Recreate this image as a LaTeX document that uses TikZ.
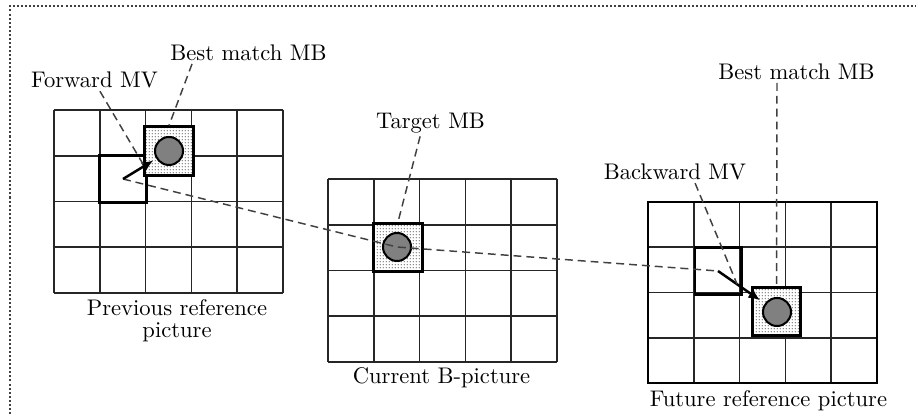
\documentclass[tikz,border=0pt]{standalone}
\usepackage{tikz}
\usetikzlibrary{arrows.meta,patterns,patterns.meta,calc,positioning}
\definecolor{mbgray}{gray}{0.5}
\definecolor{leadgray}{gray}{0.25}
\tikzdeclarepattern{
	name=finedots,
	type=uncolored,
	bounding box={(0,0) and (1.4pt,1.4pt)},
	tile size={(1.4pt,1.4pt)},
	code={\pgfpathcircle{\pgfpoint{0.7pt}{0.7pt}}{0.32pt}\pgfusepath{fill}}
}
\tikzset{%
	>={Latex[width=1.6mm,length=1.8mm]},
	% Specifications for style of lines and nodes:
	gridline/.style = {line width=0.75pt, black!85},
	mblabel/.style = {anchor=base, inner sep=1pt},
	mvbox/.style = {rectangle, draw=black, line width=1.3pt, minimum size=20.4pt,
	inner sep=0pt},
	matchbox/.style = {mvbox, minimum size=21.3pt, preaction={fill=white},
	pattern=finedots, pattern color=black!60},
	mbdot/.style = {circle, draw=black, line width=0.9pt, fill=mbgray,
	minimum size=12.4pt, inner sep=0pt},
	leader/.style = {leadgray, line width=0.65pt, dash pattern=on 3.5pt off 2.2pt},
	mvpath/.style = {leader, leadgray},
	mvarrow/.style = {->, line width=1.1pt}
}
% one picture: 5x4 blocks, top left corner at (#1,#2), block height #3
\newcommand{\refgrid}[3]{%
	\foreach \i in {0,...,5}
		\draw[gridline] (#1+\i*45.8,#2) -- (#1+\i*45.8,#2+4*#3);
	\foreach \j in {0,...,4}
		\draw[gridline] (#1,#2+\j*#3) -- (#1+229,#2+\j*#3);
}

\begin{document}
\begin{tikzpicture}[x=0.4427pt, y=-0.4427pt]
	\useasboundingbox (0,0) rectangle (916,414);
	\draw[dash pattern=on 0.9pt off 0.9pt, black!75, line width=0.8pt]
		(10,414) -- (10,6) -- (916,6);
	
	% the three pictures
	\refgrid{54}{110}{45.75}
	\refgrid{328}{179}{45.75}
	\refgrid{648}{202}{45.25}
	\draw[line width=1.1pt] (648,202) rectangle (877,383);
	
	% Specification of blocks (position, etc.)
	\node (fwdbox)    [mvbox]    at (123,179) {};
	\node (prevmatch) [matchbox] at (169,151) {};
	\node (prevmb)    [mbdot]    at (169,151) {};
	
	\node (curmatch)  [matchbox] at (398,247.5) {};
	\node (curmb)     [mbdot]    at (397,247) {};
	
	\node (bwdbox)    [mvbox]    at (718,271) {};
	\node (futmatch)  [matchbox] at (776.5,311.5) {};
	\node (futmb)     [mbdot]    at (777,312) {};
	
	\coordinate (fwdtip) at (143,164);
	\coordinate (bwdtip) at (737,284);
	
	% labels
	\node (fwdlbl)  [mblabel] at (94.5,88)  {Forward MV};
	\node (prevbml) [mblabel] at (248.5,61) {Best match MB};
	\node (tgtlbl)  [mblabel] at (430.5,129) {Target MB};
	\node (bwdlbl)  [mblabel] at (675,180)  {Backward MV};
	\node (futbml)  [mblabel] at (796.5,80) {Best match MB};
	\node (prevlbl) [anchor=north, inner sep=0pt, align=center] at (177,299)
		{Previous reference\\[-2.3pt]picture};
	\node (curlbl)  [mblabel] at (441.5,384) {Current B-picture};
	\node (futlbl)  [mblabel] at (768.5,407) {Future reference picture};
	
	% motion vectors
	\draw[mvpath] (fwdbox.center) -- (curmb.center) -- (bwdbox.center);
	\draw[mvarrow, shorten >=1.5pt] (fwdbox.center) -- (prevmb);
	\draw[mvarrow, shorten >=2.5pt] (bwdbox.center) -- (futmb);
	
	% leaders
	\draw[leader] ([xshift=2.4pt]fwdlbl.south) -- (fwdtip);
	\draw[leader] ([xshift=-25pt]prevbml.south) -- (prevmatch.north);
	\draw[leader] ([xshift=-4.6pt]tgtlbl.south) -- (curmatch.north);
	\draw[leader] ([xshift=8.9pt]bwdlbl.south) -- (bwdtip);
	\draw[leader] (futmb |- futbml.south) -- (futmatch.north);
\end{tikzpicture}
\end{document}
